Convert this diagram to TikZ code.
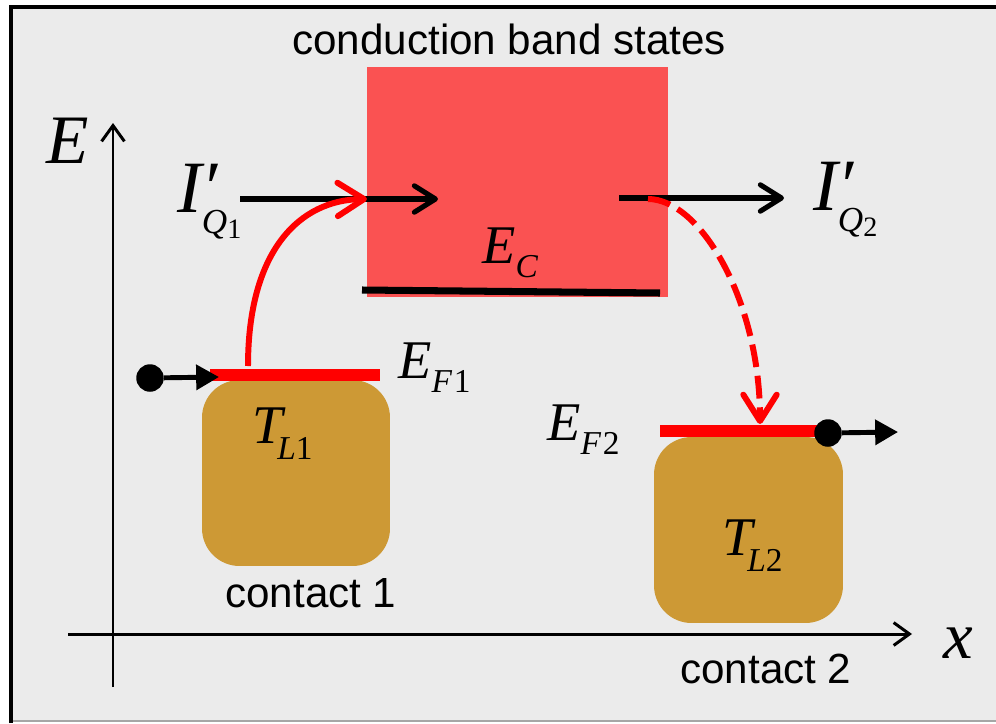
\documentclass[tikz,border=0pt]{standalone}
\usepackage{fontspec}
\setmainfont{Liberation Sans}
\newfontfamily\tms{Liberation Serif}
\usetikzlibrary{arrows.meta}
\definecolor{panelgray}{HTML}{EBEBEB}
\definecolor{bandred}{RGB}{250,82,82}
\definecolor{contactgold}{RGB}{205,153,53}
\newcommand{\lowsub}[3]{\raisebox{-#1}{\fontsize{#2}{#2}\selectfont #3}}

\begin{document}
\begin{tikzpicture}[x=0.02cm, y=-0.02cm,
  sym/.style     = {font=\tms\itshape, inner sep=0pt, anchor=base west},
  lbl/.style     = {font=\fontsize{24}{28}\selectfont, inner sep=0pt, anchor=base west},
  contact/.style = {fill=contactgold, rounded corners=0.75cm, inner sep=0pt},
  axis/.style    = {line width=1.7pt, -{Straight Barb[length=9pt,width=13pt]}},
  flow/.style    = {line width=2.9pt, -{Straight Barb[length=12pt,width=15pt,round]}},
  hop/.style     = {draw=red, line width=3.4pt, -{Straight Barb[length=15pt,width=19pt,round]}},
  level/.style   = {draw=red, line width=6.5pt},
  push/.style    = {line width=2.8pt, -{Triangle[length=13pt,width=14pt]}},
  dot/.style     = {circle, fill=black, minimum size=0.55cm, inner sep=0pt},
]
\useasboundingbox (0,0) rectangle (996,723);
\fill[panelgray] (11,7) rectangle (996,721);
\draw[gray!70, line width=0.9pt] (11,721) -- (996,721);
\draw[line width=2.3pt] (11,723) -- (11,7) -- (996,7);

\coordinate (ybot) at (113,687);
\coordinate (ytop) at (113,123);
\coordinate (xleft) at (68,634);
\coordinate (xright) at (912,634);
\draw[axis] (ybot) -- (ytop);
\draw[axis] (xleft) -- (xright);
\node[sym] (elbl) at (46,163) {\fontsize{39.5}{40}\selectfont E};
\node[sym] (xlbl) at (943,658) {\fontsize{38}{38}\selectfont x};

\node[fill=bandred, minimum width=6.02cm, minimum height=4.6cm, inner sep=0pt] (band) at (517.5,182) {};
\node[lbl] (cbs) at (292,55) {conduction band states};
\coordinate (ecw) at (362,290);
\coordinate (ece) at (660,293);
\draw[line width=4pt] (ecw) -- (ece);
\node[sym] (ec) at (482,263) {\fontsize{31}{31}\selectfont E\lowsub{8pt}{19}{C}};

\node[contact, minimum width=3.76cm, minimum height=3.72cm] (c1) at (296,473) {};
\node[contact, minimum width=3.78cm, minimum height=3.72cm] (c2) at (748.5,530) {};
\node[lbl] (c1lbl) at (225,607) {contact 1};
\node[lbl] (c2lbl) at (680,683) {contact 2};
\node[sym] (tl1) at (252,443) {\fontsize{31}{31}\selectfont T\kern-3pt\lowsub{9.5pt}{19}{L\upshape 1}};
\node[sym] (tl2) at (722,555) {\fontsize{31}{31}\selectfont T\kern-3pt\lowsub{9.5pt}{19}{L\upshape 2}};

\coordinate (ef1w) at (210,375);
\coordinate (ef1e) at (380,375);
\coordinate (ef2w) at (660,431);
\coordinate (ef2e) at (828,431);
\draw[level] (ef1w) -- (ef1e);
\draw[level] (ef2w) -- (ef2e);
\node[sym] (ef1) at (398,378) {\fontsize{31}{31}\selectfont E\lowsub{8pt}{19}{F\kern1pt\upshape 1}};
\node[sym] (ef2) at (547,440) {\fontsize{31}{31}\selectfont E\lowsub{8pt}{19}{F\kern1pt\upshape 2}};

\node[dot] (d1) at (150,378) {};
\node[dot] (d2) at (828,433) {};
\coordinate (in1) at (219,377);
\coordinate (out2) at (898,432);
\draw[push] (d1) -- (in1);
\draw[push] (d2) -- (out2);

\coordinate (q1a) at (240,199);
\coordinate (q1b) at (438,199);
\coordinate (q2a) at (619,198);
\coordinate (q2b) at (784,198);
\draw[flow] (q1a) -- (q1b);
\draw[flow] (q2a) -- (q2b);
\node[sym] (iq1) at (177,212) {\fontsize{42}{42}\selectfont I\rlap{\char"2032}\lowsub{12pt}{20}{Q}\lowsub{15pt}{16}{\upshape 1}};
\node[sym] (iq2) at (813,210) {\fontsize{42}{42}\selectfont I\rlap{\char"2032}\lowsub{12pt}{20}{Q}\lowsub{15pt}{16}{\upshape 2}};

\coordinate (lift) at (248,366);
\coordinate (inject) at (367,199);
\coordinate (escape) at (648,199);
\coordinate (land) at (760,424);
\draw[hop] (lift) .. controls (248,250) and (300,200) .. (inject);
\draw[hop, dash pattern=on 13pt off 5pt] (escape) .. controls (700,199) and (760,300) .. (land);
\end{tikzpicture}
\end{document}
